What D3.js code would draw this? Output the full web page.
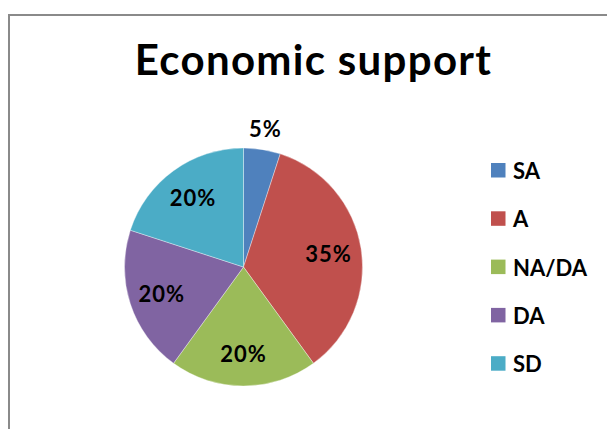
<!DOCTYPE html>
<html>
<head>
<meta charset="utf-8">
<script src="https://cdn.jsdelivr.net/npm/d3@7"></script>
<style>
  html, body { margin: 0; padding: 0; background: #fff; }
  svg { display: block; }
  text { font-family: Lato, "Open Sans", sans-serif; font-weight: 700; fill: #000; }
</style>
</head>
<body>
<svg id="chart" width="607" height="429"></svg>
<script>
// Survey responses for "Economic support"
const categories = ["SA", "A", "NA/DA", "DA", "SD"];
const values = [5, 35, 20, 20, 20];
const colors = ["#4F81BD", "#C0504D", "#9BBB59", "#8064A2", "#4BACC6"];
const title = "Economic support";

const width = 607, height = 429;
const svg = d3.select("#chart");

// chart frame (left and top edges visible)
svg.append("path")
  .attr("d", `M9,${height} L9,15 L${width},15`)
  .attr("fill", "none")
  .attr("stroke", "#8a8a8a")
  .attr("stroke-width", 2);

// title
svg.append("text")
  .attr("x", 313.5)
  .attr("y", 75)
  .attr("text-anchor", "middle")
  .style("font-size", "42px")
  .style("letter-spacing", "1.3px")
  .text(title);

// pie
const cx = 243.5, cy = 267, R = 119;
const total = d3.sum(values);
const pie = d3.pie().sort(null).value(d => d.value);
const data = categories.map((c, i) => ({ cat: c, value: values[i], color: colors[i] }));
const arcs = pie(data);
const arc = d3.arc().innerRadius(0).outerRadius(R);

const g = svg.append("g").attr("transform", `translate(${cx},${cy})`);
g.selectAll("path.slice")
  .data(arcs)
  .join("path")
  .attr("class", "slice")
  .attr("d", arc)
  .attr("fill", d => d.data.color)
  .attr("stroke", "#ffffff")
  .attr("stroke-opacity", 0.6)
  .attr("stroke-width", 0.6);

// value labels: inside for large slices, outside for small ones
const inner = d3.arc().innerRadius(86).outerRadius(86);
const outer = d3.arc().innerRadius(R + 21).outerRadius(R + 21);
g.selectAll("text.lbl")
  .data(arcs)
  .join("text")
  .attr("class", "lbl")
  .attr("text-anchor", "middle")
  .attr("dominant-baseline", "central")
  .style("font-size", "22px")
  .style("letter-spacing", "1px")
  .attr("transform", d => {
    const p = (d.data.value / total < 0.1 ? outer : inner).centroid(d);
    return `translate(${p[0]},${p[1]})`;
  })
  .text(d => Math.round(d.data.value / total * 100) + "%");

// legend
const legend = svg.append("g").attr("transform", "translate(491,163)");
const rowH = 48.3;
const item = legend.selectAll("g.item")
  .data(data)
  .join("g")
  .attr("class", "item")
  .attr("transform", (d, i) => `translate(0,${i * rowH})`);
item.append("rect")
  .attr("width", 14.5)
  .attr("height", 14.5)
  .attr("fill", d => d.color);
item.append("text")
  .attr("x", 22)
  .attr("y", 7.5)
  .attr("dominant-baseline", "central")
  .style("font-size", "22px")
  .text(d => d.cat);
</script>
</body>
</html>
